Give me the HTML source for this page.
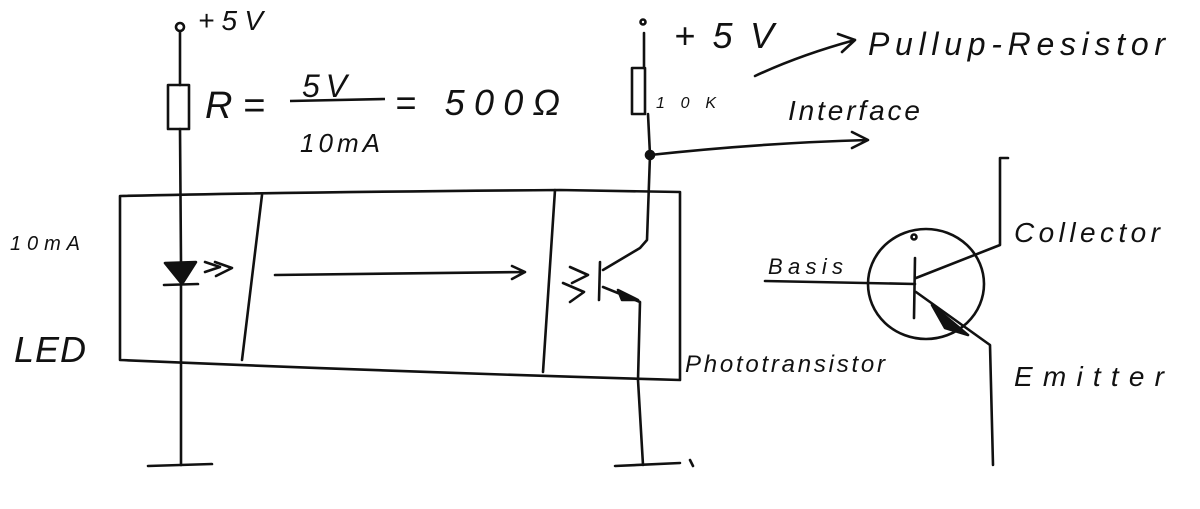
<!DOCTYPE html>
<html><head><meta charset="utf-8"><style>
html,body{margin:0;padding:0;background:#fff}
svg{display:block}
text{font-family:"Liberation Sans",sans-serif;fill:#111;font-style:italic}
</style></head><body>
<svg width="1200" height="509" viewBox="0 0 1200 509" xmlns="http://www.w3.org/2000/svg">
<g fill="none" stroke="#111" stroke-width="2.6" stroke-linecap="round" stroke-linejoin="round">
<circle cx="180" cy="27" r="4"/>
<path d="M180 31 L180 85"/>
<rect x="168" y="85" width="21" height="44"/>
<path d="M180 129 L181 262"/>
<path d="M165 263 L196 262 L182 284 Z" fill="#111"/>
<path d="M164 285 L198 284"/>
<path d="M181 285 L181 465"/>
<path d="M148 466 L212 464"/>
<path d="M205 262 L220 267 L205 272 M215 262 L232 268 L216 276"/>
<path d="M120 196 Q300 192 560 190 L680 192 L680 380 Q400 372 120 360 L120 196"/>
<path d="M262 195 L242 360"/>
<path d="M555 190 L543 372"/>
<path d="M275 275 Q400 273 525 272 M512 266 L525 272 L512 279"/>
<circle cx="643" cy="22" r="2.5"/>
<path d="M644 33 L644 68"/>
<rect x="632" y="68" width="13" height="46"/>
<path d="M648 114 L650 155 L647 240 L640 248 L603 270"/>
<circle cx="650" cy="155" r="4" fill="#111"/>
<path d="M600 262 L599 300"/>
<path d="M603 287 L640 302 L638 380 L643 465"/>
<path d="M618 290 L638 300 L622 300 Z" fill="#111"/>
<path d="M570 267 L588 275 L572 283 M563 283 L584 292 L570 302"/>
<path d="M615 466 L680 463"/>
<path d="M690 460 L693 466"/>
<path d="M650 155 Q760 143 868 140 M852 132 L868 140 L852 148"/>
<path d="M755 76 Q800 55 855 40 M838 34 L855 40 L842 52"/>
<ellipse cx="926" cy="284" rx="58" ry="55"/>
<path d="M765 281 L915 284"/>
<path d="M915 258 L914 318"/>
<path d="M916 278 L1000 245 L1000 158 L1008 158"/>
<path d="M916 292 L990 345 L993 465"/>
<path d="M932 305 L968 335 L945 328 Z" fill="#111"/>
<circle cx="914" cy="237" r="2.5"/>
</g>
<text x="198" y="30" font-size="28" textLength="65">+5V</text>
<text x="205" y="118" font-size="38" textLength="60">R =</text>
<text x="302" y="97" font-size="32" textLength="45">5V</text>
<path d="M290 101 L385 99" stroke="#111" stroke-width="2.6"/>
<text x="300" y="152" font-size="26" textLength="80">10mA</text>
<text x="395" y="115" font-size="36" textLength="165">= 500Ω</text>
<text x="656" y="108" font-size="16" textLength="60">10K</text>
<text x="674" y="48" font-size="36" textLength="100">+5V</text>
<text x="868" y="55" font-size="32" textLength="297">Pullup-Resistor</text>
<text x="788" y="120" font-size="28" textLength="132">Interface</text>
<text x="10" y="250" font-size="20" textLength="70">10mA</text>
<text x="14" y="362" font-size="36" textLength="72">LED</text>
<text x="768" y="274" font-size="22" textLength="75">Basis</text>
<text x="1014" y="242" font-size="28" textLength="146">Collector</text>
<text x="1014" y="386" font-size="28" textLength="150">Emitter</text>
<text x="685" y="372" font-size="24" textLength="200">Phototransistor</text>
</svg>
</body></html>
